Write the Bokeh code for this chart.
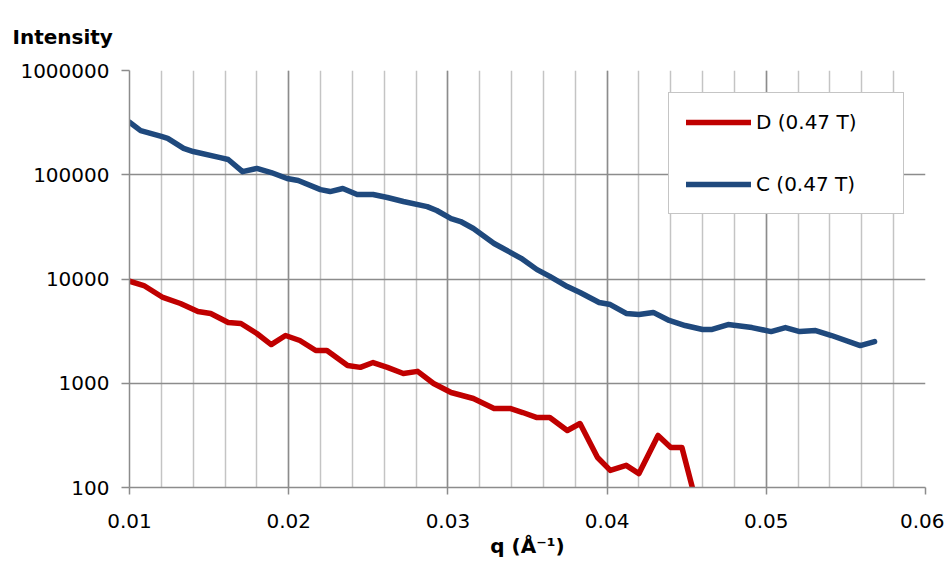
from bokeh.plotting import figure
from bokeh.models import (SingleIntervalTicker, FixedTicker, PrintfTickFormatter,
                          Legend, LegendItem)
from bokeh.embed import file_html
from bokeh.resources import INLINE

# ---- data ----
c_q = [0.0100, 0.0107, 0.0120, 0.0124, 0.0134, 0.0140, 0.0157, 0.0162, 0.0171, 0.0180,
       0.0189, 0.0199, 0.0206, 0.0220, 0.0226, 0.0234, 0.0243, 0.0253, 0.0262, 0.0272,
       0.0287, 0.0293, 0.0302, 0.0308, 0.0316, 0.0329, 0.0346, 0.0356, 0.0364, 0.0375,
       0.0383, 0.0395, 0.0402, 0.0412, 0.0420, 0.0429, 0.0439, 0.0449, 0.0460, 0.0466,
       0.0476, 0.0491, 0.0503, 0.0512, 0.0521, 0.0531, 0.0541, 0.0559, 0.0568]
c_i = [319000, 265000, 233000, 223000, 179000, 167000, 146000, 140000, 107000, 115000,
       105000, 92000, 88000, 72000, 69000, 73800, 64600, 64600, 60500, 55400,
       49500, 45400, 38000, 35600, 30500, 21900, 15800, 12300, 10600, 8470,
       7420, 5950, 5690, 4670, 4570, 4780, 4000, 3580, 3280, 3280,
       3660, 3420, 3130, 3420, 3130, 3200, 2870, 2300, 2510]

d_q = [0.0100, 0.0109, 0.0121, 0.0132, 0.0143, 0.0151, 0.0162, 0.0170, 0.0180, 0.0189,
       0.0198, 0.0207, 0.0217, 0.0224, 0.0237, 0.0245, 0.0253, 0.0262, 0.0272, 0.0281,
       0.0291, 0.0302, 0.0316, 0.0329, 0.0339, 0.0347, 0.0356, 0.0364, 0.0375, 0.0383,
       0.0394, 0.0402, 0.0412, 0.0420, 0.0432, 0.0440, 0.0447, 0.0454]
d_i = [9530, 8660, 6650, 5820, 4880, 4670, 3830, 3740, 3000, 2350,
       2870, 2570, 2060, 2060, 1480, 1420, 1580, 1420, 1240, 1300,
       995, 815, 714, 573, 573, 524, 469, 469, 352, 411,
       194, 146, 163, 136, 316, 242, 242, 94]

y_ticks = [100, 1000, 10000, 100000, 1000000]
series_names = ["D (0.47 T)", "C (0.47 T)"]

FONT = "DejaVu Sans"
GRID_DARK = "#8c8c8c"
GRID_LIGHT = "#c4c4c4"
W, H = 944, 562

p = figure(width=W, height=H, output_backend="svg", toolbar_location=None,
           y_axis_type="log", x_range=(0.01, 0.06), y_range=(100, 1000000),
           min_border_left=129, min_border_right=19, min_border_top=70,
           min_border_bottom=75, background_fill_color="white",
           border_fill_color="white")
p.outline_line_color = None

# title at the top-left corner
p.title.text = "Intensity"
p.title.text_font = FONT
p.title.text_font_size = "20px"
p.title.text_font_style = "bold"
p.title.text_color = "black"
p.title.align = "left"
p.title.vertical_align = "top"
p.title.offset = -117
if "standoff" in p.title.properties():
    p.title.standoff = 40

# x axis
p.xaxis.ticker = SingleIntervalTicker(interval=0.01, num_minor_ticks=5)
p.xaxis.formatter = PrintfTickFormatter(format="%.2f")
p.xaxis.axis_label = "q (Å⁻¹)"
p.xaxis.axis_label_text_font = FONT
p.xaxis.axis_label_text_font_style = "bold"
p.xaxis.axis_label_text_font_size = "20px"
p.xaxis.axis_label_standoff = 3
p.xaxis.major_label_text_font = FONT
p.xaxis.major_label_text_font_size = "20px"
p.xaxis.major_label_standoff = 19
p.xaxis.major_tick_out = 7
p.xaxis.major_tick_in = 0
p.xaxis.minor_tick_out = 0
p.xaxis.minor_tick_in = 0
p.xaxis.axis_line_color = GRID_DARK
p.xaxis.axis_line_width = 1.5
p.xaxis.major_tick_line_color = GRID_DARK
p.xaxis.major_tick_line_width = 1.5

# y axis
p.yaxis.ticker = FixedTicker(ticks=y_ticks, minor_ticks=[])
p.yaxis.formatter = PrintfTickFormatter(format="%d")
p.yaxis.major_label_text_font = FONT
p.yaxis.major_label_text_font_size = "20px"
p.yaxis.major_label_standoff = 12
p.yaxis.major_tick_out = 8
p.yaxis.major_tick_in = 0
p.yaxis.minor_tick_out = 0
p.yaxis.minor_tick_in = 0
p.yaxis.axis_line_color = GRID_DARK
p.yaxis.axis_line_width = 1.5
p.yaxis.major_tick_line_color = GRID_DARK
p.yaxis.major_tick_line_width = 1.5
p.axis.major_label_text_color = "black"
p.axis.axis_label_text_color = "black"

# grids
p.xgrid.grid_line_color = GRID_DARK
p.xgrid.grid_line_width = 1.5
p.xgrid.minor_grid_line_color = GRID_LIGHT
p.xgrid.minor_grid_line_width = 1.5
p.ygrid.grid_line_color = GRID_DARK
p.ygrid.grid_line_width = 1.5
p.ygrid.minor_grid_line_color = None

# series
rd = p.line(d_q, d_i, line_color="#c00000", line_width=5.5, line_join="round",
            line_cap="round")
rc = p.line(c_q, c_i, line_color="#1f497d", line_width=5.5, line_join="round",
            line_cap="round")

legend = Legend(items=[LegendItem(label=series_names[0], renderers=[rd]),
                       LegendItem(label=series_names[1], renderers=[rc])],
                location=(539, 273))
legend.label_text_font = FONT
legend.label_text_font_size = "20px"
legend.label_text_color = "black"
legend.glyph_width = 65
legend.glyph_height = 20
legend.label_height = 20
legend.label_width = 130
legend.label_standoff = 5
legend.spacing = 38
legend.padding = 17
legend.margin = 0
legend.border_line_color = GRID_DARK
legend.border_line_width = 1.5
legend.background_fill_color = "white"
legend.background_fill_alpha = 1.0
p.add_layout(legend, "center")

open("out.html", "w").write(file_html(p, INLINE))
